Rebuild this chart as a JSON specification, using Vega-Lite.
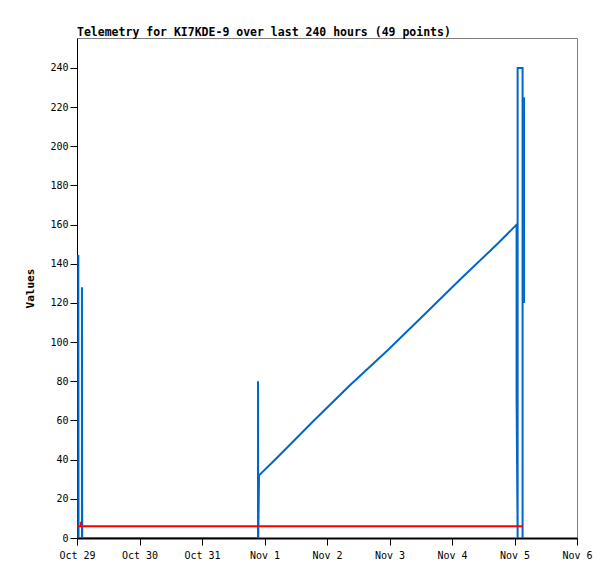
{
  "$schema": "https://vega.github.io/schema/vega-lite/v6.json",
  "width": 500,
  "height": 500,
  "autosize": "none",
  "padding": {"left": 77, "top": 38, "right": 38, "bottom": 41},
  "background": "white",
  "title": {
    "text": "Telemetry for KI7KDE-9 over last 240 hours (49 points)",
    "anchor": "start",
    "frame": "group",
    "font": "DejaVu Sans Mono",
    "fontSize": 11.5,
    "fontWeight": "bold",
    "color": "black",
    "offset": 0
  },
  "config": {
    "view": {"stroke": "#808080", "strokeWidth": 1},
    "axis": {
      "labelFont": "DejaVu Sans Mono",
      "labelFontSize": 10,
      "labelColor": "black",
      "titleFont": "DejaVu Sans Mono",
      "titleFontSize": 11,
      "titleFontWeight": "bold",
      "titleColor": "black",
      "domainColor": "black",
      "tickColor": "black",
      "grid": false
    }
  },
  "data": {
    "values": [
      {"t": "2023-10-29T00:30:00Z", "v": 0, "s": "b", "seg": "b1", "o": 1},
      {"t": "2023-10-29T00:30:00Z", "v": 144.5, "s": "b", "seg": "b1", "o": 2},
      {"t": "2023-10-29T00:36:00Z", "v": 0, "s": "b", "seg": "b1", "o": 3},
      {"t": "2023-10-29T01:54:00Z", "v": 0, "s": "b", "seg": "b1", "o": 4},
      {"t": "2023-10-29T01:54:00Z", "v": 128, "s": "b", "seg": "b1", "o": 5},
      {"t": "2023-10-29T02:00:00Z", "v": 0, "s": "b", "seg": "b1", "o": 6},
      {"t": "2023-10-31T21:30:00Z", "v": 0, "s": "b", "seg": "b1", "o": 7},
      {"t": "2023-10-31T21:30:00Z", "v": 80, "s": "b", "seg": "b1", "o": 8},
      {"t": "2023-10-31T21:36:00Z", "v": 0, "s": "b", "seg": "b1", "o": 9},
      {"t": "2023-10-31T21:54:00Z", "v": 32, "s": "b", "seg": "b1", "o": 10},
      {"t": "2023-11-01T04:48:00Z", "v": 41, "s": "b", "seg": "b1", "o": 11},
      {"t": "2023-11-01T18:36:00Z", "v": 59.5, "s": "b", "seg": "b1", "o": 12},
      {"t": "2023-11-02T08:48:00Z", "v": 78, "s": "b", "seg": "b1", "o": 13},
      {"t": "2023-11-02T23:24:00Z", "v": 96, "s": "b", "seg": "b1", "o": 14},
      {"t": "2023-11-03T13:18:00Z", "v": 114, "s": "b", "seg": "b1", "o": 15},
      {"t": "2023-11-04T03:30:00Z", "v": 132.5, "s": "b", "seg": "b1", "o": 16},
      {"t": "2023-11-04T18:06:00Z", "v": 151, "s": "b", "seg": "b1", "o": 17},
      {"t": "2023-11-05T00:48:00Z", "v": 160, "s": "b", "seg": "b1", "o": 18},
      {"t": "2023-11-05T00:48:00Z", "v": 72.5, "s": "b", "seg": "b1", "o": 19},
      {"t": "2023-11-05T01:12:00Z", "v": 0, "s": "b", "seg": "b1", "o": 20},
      {"t": "2023-11-05T01:12:00Z", "v": 240, "s": "b", "seg": "b1", "o": 21},
      {"t": "2023-11-05T03:06:00Z", "v": 240, "s": "b", "seg": "b1", "o": 22},
      {"t": "2023-11-05T03:06:00Z", "v": 0, "s": "b", "seg": "b1", "o": 23},
      {"t": "2023-11-05T03:40:00Z", "v": 225, "s": "b", "seg": "b2", "o": 24},
      {"t": "2023-11-05T03:40:00Z", "v": 120, "s": "b", "seg": "b2", "o": 25},
      {"t": "2023-10-29T00:00:00Z", "v": 6, "s": "r", "seg": "r1", "o": 1},
      {"t": "2023-10-29T01:30:00Z", "v": 6, "s": "r", "seg": "r1", "o": 2},
      {"t": "2023-10-29T01:30:00Z", "v": 8.3, "s": "r", "seg": "r1", "o": 3},
      {"t": "2023-10-29T01:30:00Z", "v": 6, "s": "r", "seg": "r1", "o": 4},
      {"t": "2023-11-05T03:18:00Z", "v": 6, "s": "r", "seg": "r1", "o": 5}
    ]
  },
  "mark": {"type": "line", "strokeWidth": 2, "clip": true, "strokeJoin": "miter", "strokeCap": "butt"},
  "encoding": {
    "x": {
      "field": "t",
      "type": "temporal",
      "scale": {"type": "utc", "domain": [{"year": 2023, "month": 10, "date": 29, "utc": true}, {"year": 2023, "month": 11, "date": 6, "utc": true}]},
      "axis": {
        "title": null,
        "format": "%b %-d",
        "values": [
          {"year": 2023, "month": 10, "date": 29, "utc": true},
          {"year": 2023, "month": 10, "date": 30, "utc": true},
          {"year": 2023, "month": 10, "date": 31, "utc": true},
          {"year": 2023, "month": 11, "date": 1, "utc": true},
          {"year": 2023, "month": 11, "date": 2, "utc": true},
          {"year": 2023, "month": 11, "date": 3, "utc": true},
          {"year": 2023, "month": 11, "date": 4, "utc": true},
          {"year": 2023, "month": 11, "date": 5, "utc": true},
          {"year": 2023, "month": 11, "date": 6, "utc": true}
        ],
        "domainWidth": 2,
        "tickSize": 7,
        "labelPadding": 5,
        "labelFlush": false,
        "labelOverlap": false
      }
    },
    "y": {
      "field": "v",
      "type": "quantitative",
      "scale": {"domain": [0, 255.3], "nice": false, "zero": true},
      "axis": {
        "title": "Values",
        "values": [0, 20, 40, 60, 80, 100, 120, 140, 160, 180, 200, 220, 240],
        "tickSize": 7,
        "labelPadding": 2,
        "titlePadding": 14
      }
    },
    "color": {"field": "s", "type": "nominal", "scale": {"domain": ["b", "r"], "range": ["#0066cc", "#ff0000"]}, "legend": null},
    "detail": {"field": "seg"},
    "order": {"field": "o", "type": "quantitative"}
  }
}
